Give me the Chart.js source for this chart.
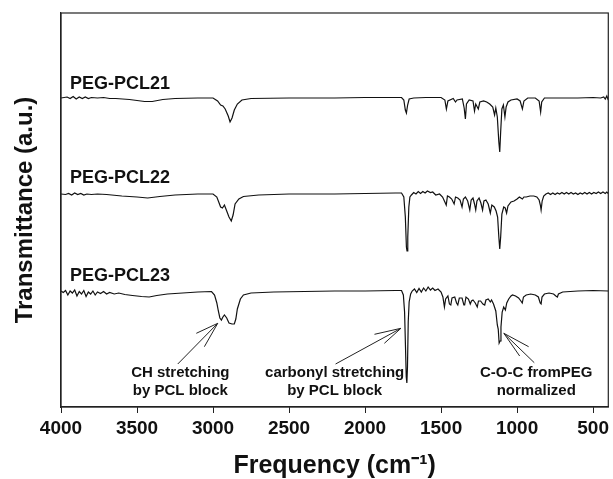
<!DOCTYPE html>
<html>
<head>
<meta charset="utf-8">
<script src="https://cdn.jsdelivr.net/npm/chart.js@4.4.1/dist/chart.umd.min.js"></script>
<style>
  html, body { margin:0; padding:0; background:#fff; }
  canvas { display:block; }
</style>
</head>
<body>
<canvas id="ftir" width="613" height="479"></canvas>
<script>
// spectra: wavenumber (cm-1) and transmittance (a.u., offset per sample)
var names = ["PEG-PCL21", "PEG-PCL22", "PEG-PCL23"];

var freq21 = [4000,3960,3940,3920,3900,3880,3860,3840,3820,3800,3760,3720,3680,3640,3550,3450,3400,3330,3250,3100,3000,2970,2950,2935,2920,2900,2888,2875,2860,2840,2810,2750,2500,2200,2000,1800,1760,1745,1735,1728,1720,1710,1680,1600,1500,1475,1465,1455,1420,1405,1395,1360,1348,1340,1333,1315,1290,1280,1272,1255,1245,1220,1200,1180,1160,1148,1140,1130,1120,1114,1108,1100,1090,1080,1072,1060,1040,1000,980,965,955,930,880,855,845,838,820,700,600,500,450,430,420,410,400];
var trans21 = [309,310,308.5,310.5,308,310,308.5,310,308.5,309.5,309,309.5,308.5,308.5,307.5,305.5,305.5,307.5,308.5,309,309,306,302,301,298,291,285,289,297,303,307,308.5,309,309,309.5,309.5,309.5,307,297,294,302,308,309,309.5,309.5,307,298,306,308.5,305,307,308,299,288,303,307,306,296,303,298,305,306,305,303,300,292,299,290,265,255,275,298,302,290,300,305,307,308,306,298,306,309,309,306,295,305,309,309,309,309.5,309,310,308,311,307];

var freq22 = [4000,3970,3950,3930,3910,3890,3870,3850,3830,3800,3760,3700,3600,3500,3430,3350,3250,3100,3000,2975,2960,2950,2938,2925,2910,2895,2880,2868,2855,2830,2800,2700,2500,2200,2000,1800,1760,1745,1735,1728,1724,1719,1712,1705,1695,1680,1665,1650,1635,1620,1605,1590,1570,1555,1535,1510,1490,1475,1466,1458,1445,1430,1414,1405,1390,1375,1362,1353,1340,1325,1311,1302,1290,1280,1272,1264,1250,1238,1227,1218,1205,1190,1176,1166,1150,1138,1128,1120,1114,1108,1100,1088,1078,1069,1060,1040,1020,1000,985,975,965,955,940,915,890,870,855,847,842,835,825,810,795,780,765,750,735,720,705,690,675,660,645,630,615,600,585,570,555,540,525,510,495,480,465,450,435,420,410,400];
var trans22 = [213,212.5,213.5,212,214,212.5,213.5,212,213,212.5,213,212.5,211,210,209,210.5,212,213,213,210,204,200,199,202,196,190,186,192,203,208,210.5,212,213,213,213.5,214,214,210,190,160,156,170,200,210,212,214.5,213,215.5,213.5,215.5,214,216,214.5,215,212,213,210,205,202,211,210,208,203,210,209,207,200,208,210,206,197,207,209,203,197,206,209,204,197,206,207,203,194,202,200,196,190,170,158,170,193,200,199,194,201,205,206,208,210,209,208,210,210,211,211,210,207,202,197,206,211,213,214,212.5,214,212.5,214,213,214.5,213,214.5,213,214.5,213,214,212.5,214,213,214.5,213,214.5,213,214.5,213.5,215,213.5,215,213.5,215,213.5,214.5,213.5,215,212];

var freq23 = [4000,3985,3970,3955,3940,3925,3910,3895,3880,3865,3850,3835,3820,3805,3790,3775,3760,3740,3720,3700,3680,3650,3620,3580,3530,3470,3420,3370,3300,3200,3100,3010,2990,2975,2965,2955,2945,2935,2925,2910,2895,2875,2860,2850,2840,2820,2800,2750,2600,2400,2200,2000,1800,1760,1748,1740,1734,1729,1725,1721,1716,1710,1700,1690,1675,1660,1645,1630,1615,1600,1585,1570,1555,1540,1520,1500,1488,1478,1470,1455,1445,1436,1428,1410,1398,1390,1380,1362,1350,1345,1336,1320,1308,1300,1290,1275,1262,1254,1240,1225,1213,1205,1190,1176,1168,1155,1140,1130,1124,1118,1112,1106,1098,1088,1077,1068,1055,1040,1030,1010,990,975,966,958,940,910,880,860,848,842,836,820,790,760,745,735,728,700,600,500,400];
var trans23 = [116,114.5,116.5,112,116,114,117,111,115.5,113,116.5,110.5,115,113,116,112,115,113.5,115.5,113,114.5,113,114,112.5,111.5,110.5,110,111.5,113,114,115,115.5,112,104,96,89,87,90,92,89,84,83,83,88,98,108,112,114,115,115.5,116,116,116.5,116.5,112,95,60,30,24,40,85,105,113,116,118,114.5,118.5,115,119,116,120,117,119,116.5,118,115,110,100,108,111,103,102,109,110,104,102,109,109,102,102,110,108,103,106,107,104,100,106,106,103,102,107,108,105,107,103,96,82,78,64,66,80,95,100,97,104,108,111,112,111,109,106,104,110,112,113,112,110,104,103,110,113,114,113,111,110,113,115,116,116.5,116];

var xTicks = [4000, 3500, 3000, 2500, 2000, 1500, 1000, 500];

// sample labels (left edge in cm-1, height in a.u.)
var labelFreq = 3941;
var labelY = [323, 229, 131];

// band annotations
var annoText = [["CH stretching", "by PCL block"], ["carbonyl stretching", "by PCL block"], ["C-O-C fromPEG", "normalized"]];
var annoFreq = [3215, 2200, 874];
var annoLineY = [34, 16];
var arrowTip = [[2969, 83.7], [1764, 78.7], [1087, 73.7]];
var arrowTails = [
  [[3232, 43], [3110, 73.7], [3057, 60.3]],
  [[2194, 43], [1938, 72.7], [1873, 63.7]],
  [[887, 44.3], [924, 60.3], [983, 51]]
];

var FONT = "'Liberation Sans', Arial, sans-serif";

function pts(f, t) {
  return f.map(function (v, i) { return { x: v, y: t[i] }; });
}

var series = [pts(freq21, trans21), pts(freq22, trans22), pts(freq23, trans23)];

var extras = {
  id: "extras",
  afterDraw: function (chart) {
    var ctx = chart.ctx, xs = chart.scales.x, ys = chart.scales.y, a = chart.chartArea;
    ctx.save();
    // frame
    ctx.strokeStyle = "#222";
    ctx.lineWidth = 1.2;
    ctx.strokeRect(a.left, a.top, a.right - a.left, a.bottom - a.top);

    // sample names
    ctx.fillStyle = "#111";
    ctx.font = "bold 18px " + FONT;
    ctx.textAlign = "left";
    ctx.textBaseline = "middle";
    for (var i = 0; i < names.length; i++) {
      ctx.fillText(names[i], xs.getPixelForValue(labelFreq), ys.getPixelForValue(labelY[i]));
    }

    // annotations
    ctx.font = "bold 15px " + FONT;
    ctx.textAlign = "center";
    ctx.lineWidth = 1;
    ctx.strokeStyle = "#222";
    for (var k = 0; k < annoText.length; k++) {
      for (var j = 0; j < annoText[k].length; j++) {
        ctx.fillText(annoText[k][j], xs.getPixelForValue(annoFreq[k]), ys.getPixelForValue(annoLineY[j]));
      }
      var tx = xs.getPixelForValue(arrowTip[k][0]), ty = ys.getPixelForValue(arrowTip[k][1]);
      arrowTails[k].forEach(function (p) {
        ctx.beginPath();
        ctx.moveTo(tx, ty);
        ctx.lineTo(xs.getPixelForValue(p[0]), ys.getPixelForValue(p[1]));
        ctx.stroke();
      });
    }
    ctx.restore();
  }
};

new Chart("ftir", {
  type: "scatter",
  data: {
    datasets: series.map(function (s, i) {
      return {
        label: names[i],
        data: s,
        showLine: true,
        borderColor: "#111",
        borderWidth: 1.2,
        pointRadius: 0,
        tension: 0,
        fill: false
      };
    })
  },
  options: {
    responsive: false,
    animation: false,
    devicePixelRatio: 1,
    layout: { padding: { top: 13, right: 2, left: 0, bottom: 0 } },
    plugins: { legend: { display: false }, tooltip: { enabled: false } },
    scales: {
      x: {
        type: "linear",
        reverse: true,
        min: 400,
        max: 4000,
        afterBuildTicks: function (scale) {
          scale.ticks = xTicks.map(function (v) { return { value: v }; });
        },
        afterFit: function (scale) { scale.height = 72; },
        ticks: {
          color: "#111",
          padding: 4,
          maxRotation: 0,
          callback: function (v) { return String(v); },
          font: { family: FONT, size: 19, weight: "bold" }
        },
        grid: { drawOnChartArea: false, drawTicks: true, tickLength: 6, color: "#222", lineWidth: 1 },
        border: { color: "#222", width: 1.2 },
        title: {
          display: true,
          text: "Frequency (cm\u207B\u00B9)",
          color: "#111",
          padding: { top: 0, bottom: 0 },
          font: { family: FONT, size: 25, weight: "bold", lineHeight: 1 }
        }
      },
      y: {
        min: 0,
        max: 394,
        afterFit: function (scale) { scale.width = 61; },
        ticks: { display: false },
        grid: { display: false },
        border: { color: "#222", width: 1.2 },
        title: {
          display: true,
          text: "Transmittance (a.u.)",
          color: "#111",
          padding: { top: 13, bottom: 0 },
          font: { family: FONT, size: 24, weight: "bold", lineHeight: 1 }
        }
      }
    }
  },
  plugins: [extras]
});
</script>
</body>
</html>
